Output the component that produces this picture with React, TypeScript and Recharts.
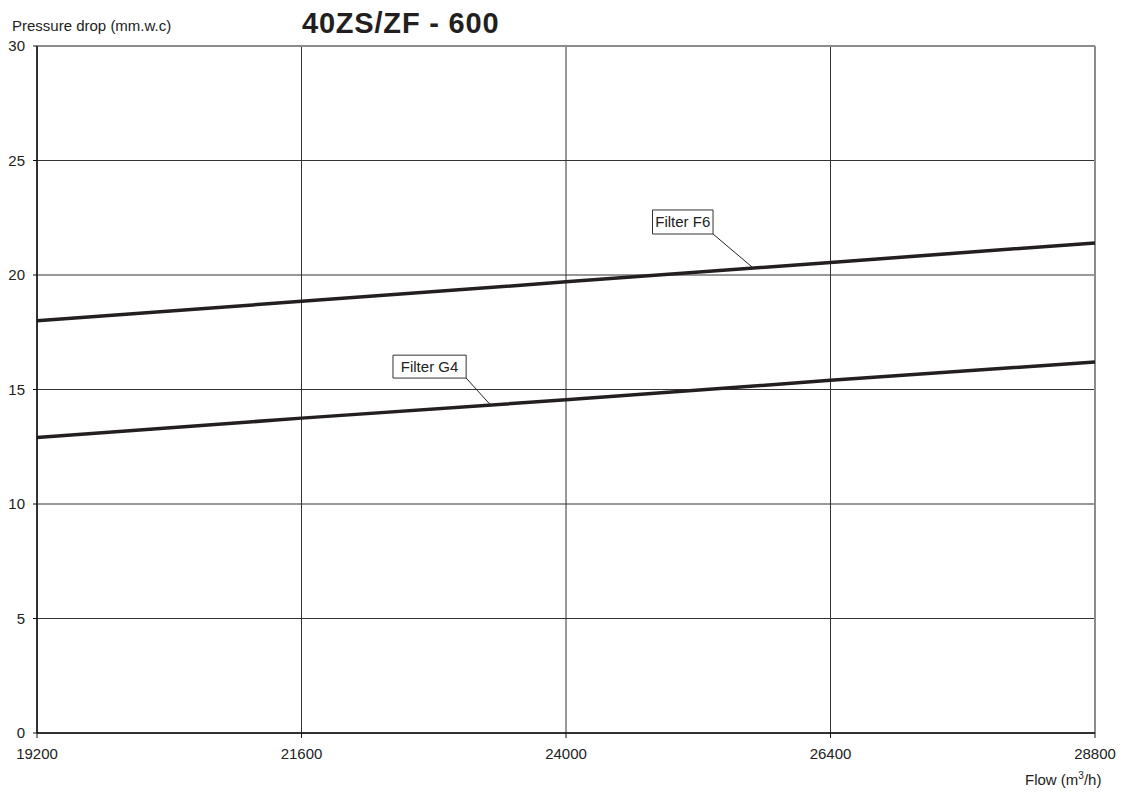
import React from 'react';
import {
  LineChart,
  Line,
  XAxis,
  YAxis,
  CartesianGrid,
  ReferenceLine,
  ReferenceArea,
  Customized,
} from 'recharts';

// flow in m3/h, pressure drop in mm.w.c
const flowTicks = [19200, 21600, 24000, 26400, 28800];
const pressureTicks = [0, 5, 10, 15, 20, 25, 30];
const filterF6 = [18.0, 18.85, 19.7, 20.55, 21.4];
const filterG4 = [12.9, 13.75, 14.55, 15.4, 16.2];

const data = flowTicks.map((flow, i) => ({
  flow,
  f6: filterF6[i],
  g4: filterG4[i],
}));

const FONT = '"Liberation Sans", Arial, sans-serif';
const INK = '#231f20';

function Titles() {
  return (
    <g style={{ fontFamily: FONT }}>
      <text x={12} y={31} fontSize={15} fill="#222">
        Pressure drop (mm.w.c)
      </text>
      <text x={302} y={33} fontSize={29} fontWeight="bold" fill={INK} letterSpacing={0.8}>
        40ZS/ZF - 600
      </text>
      <text x={1025} y={785} fontSize={15} fill="#222">
        Flow (m
        <tspan dy={-6} fontSize={10}>
          3
        </tspan>
        <tspan dy={6}>/h)</tspan>
      </text>
    </g>
  );
}

export default function App() {
  return (
    <div style={{ position: 'absolute', left: 0, top: 0, background: '#fff', fontFamily: FONT }}>
      <LineChart
        width={1122}
        height={792}
        data={data}
        margin={{ top: 46, right: 27, left: 0, bottom: 29 }}
      >
        <CartesianGrid stroke="#333" strokeWidth={1} />
        <ReferenceLine y={30} stroke="#8c8c8c" strokeWidth={2} />
        <ReferenceLine x={28800} stroke="#8c8c8c" strokeWidth={2} />
        <XAxis
          dataKey="flow"
          type="number"
          domain={[19200, 28800]}
          ticks={flowTicks}
          height={30}
          tickSize={5}
          tickMargin={10}
          stroke="#111"
          tick={{ fill: '#222', fontSize: 15, fontFamily: FONT }}
          axisLine={{ stroke: '#111', strokeWidth: 1.5 }}
        />
        <YAxis
          type="number"
          domain={[0, 30]}
          ticks={pressureTicks}
          width={37}
          tickSize={4}
          tickMargin={8}
          stroke="#111"
          tick={{ fill: '#222', fontSize: 15, fontFamily: FONT }}
          axisLine={{ stroke: '#111', strokeWidth: 1.5 }}
        />
        <Line
          type="linear"
          dataKey="f6"
          stroke={INK}
          strokeWidth={3.5}
          dot={false}
          isAnimationActive={false}
        />
        <Line
          type="linear"
          dataKey="g4"
          stroke={INK}
          strokeWidth={3.5}
          dot={false}
          isAnimationActive={false}
        />
        <ReferenceLine
          segment={[
            { x: 25334, y: 21.79 },
            { x: 25688, y: 20.35 },
          ]}
          stroke="#222"
          strokeWidth={1}
        />
        <ReferenceLine
          segment={[
            { x: 23094, y: 15.5 },
            { x: 23310, y: 14.35 },
          ]}
          stroke="#222"
          strokeWidth={1}
        />
        <ReferenceArea
          x1={24785}
          x2={25334}
          y1={21.79}
          y2={22.84}
          fill="#fff"
          fillOpacity={1}
          stroke="#333"
          strokeWidth={1}
          label={{ value: 'Filter F6', position: 'center', fill: '#222', fontSize: 15, fontFamily: FONT }}
        />
        <ReferenceArea
          x1={22430}
          x2={23094}
          y1={15.5}
          y2={16.5}
          fill="#fff"
          fillOpacity={1}
          stroke="#333"
          strokeWidth={1}
          label={{ value: 'Filter G4', position: 'center', fill: '#222', fontSize: 15, fontFamily: FONT }}
        />
        <Customized component={Titles} />
      </LineChart>
    </div>
  );
}
